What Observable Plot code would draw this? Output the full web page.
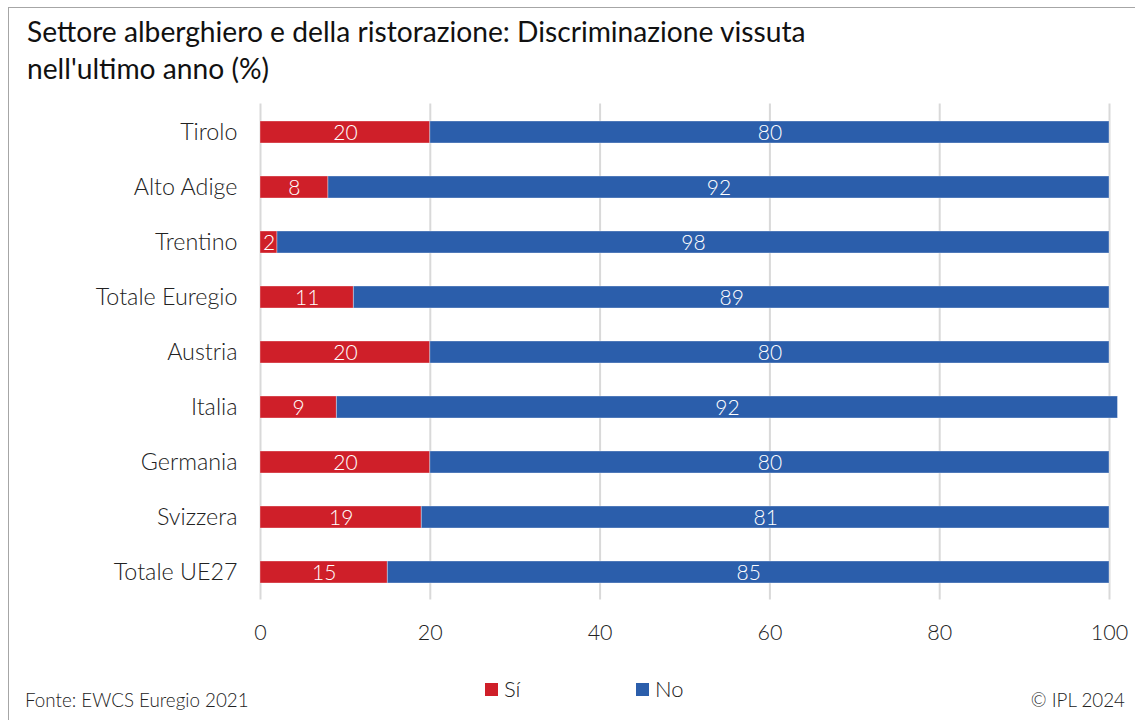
<!DOCTYPE html>
<html>
<head>
<meta charset="utf-8">
<script src="https://cdn.jsdelivr.net/npm/d3@7"></script>
<script src="https://cdn.jsdelivr.net/npm/@observablehq/plot@0.6"></script>
<style>
  html, body { margin: 0; padding: 0; background: #fff; }
  #wrap { position: relative; width: 1135px; height: 720px; overflow: hidden; font-family: Lato, "Noto Sans", sans-serif; }
  #frame { position: absolute; left: 8px; top: 7px; width: 1140px; height: 730px; border-left: 1.5px solid #a6a6a6; border-top: 1.5px solid #a6a6a6; box-sizing: border-box; }
  #chart { position: absolute; left: 0; top: 0; }
  #overlay { position: absolute; left: 0; top: 0; pointer-events: none; }
</style>
</head>
<body>
<div id="wrap">
  <div id="frame"></div>
  <div id="chart"></div>
  <svg id="overlay" width="1135" height="720"></svg>
</div>
<script>
const categories = ["Tirolo", "Alto Adige", "Trentino", "Totale Euregio", "Austria", "Italia", "Germania", "Svizzera", "Totale UE27"];
const siValues = [20, 8, 2, 11, 20, 9, 20, 19, 15];
const noValues = [80, 92, 98, 89, 80, 92, 80, 81, 85];
const seriesNames = ["Sí", "No"];
const seriesColors = ["#cf1f29", "#2b5eab"];
const xTicks = [0, 20, 40, 60, 80, 100];
const titleLines = ["Settore alberghiero e della ristorazione: Discriminazione vissuta", "nell'ultimo anno (%)"];
const sourceText = "Fonte: EWCS Euregio 2021";
const creditText = "© IPL 2024";

const data = [];
categories.forEach((c, i) => {
  data.push({cat: c, answer: seriesNames[0], value: siValues[i]});
  data.push({cat: c, answer: seriesNames[1], value: noValues[i]});
});

const chart = Plot.plot({
  width: 1135,
  height: 720,
  marginTop: 103.5,
  marginBottom: 120.5,
  marginLeft: 260,
  marginRight: 26,
  style: {fontFamily: "Lato, 'Noto Sans', sans-serif", background: "transparent"},
  x: {domain: [0, 100], label: null},
  y: {domain: categories, paddingInner: 0.6, paddingOuter: 0.3, label: null},
  color: {domain: seriesNames, range: seriesColors},
  marks: [
    Plot.ruleX(xTicks, {stroke: "#d9d9d9", strokeWidth: 2}),
    Plot.barX(data, Plot.stackX({x: "value", y: "cat", fill: "answer", order: seriesNames, stroke: "#ffffff", strokeOpacity: 0.35, strokeWidth: 1})),
    Plot.text(data, Plot.stackX({x: "value", y: "cat", z: "answer", order: seriesNames, text: d => String(d.value), fill: "white", fontSize: 21, fontWeight: 300, dy: 1})),
    Plot.axisY({tickSize: 0, tickPadding: 23, fontSize: 23.3, fontWeight: 300, fill: "#222"}),
    Plot.axisX({ticks: xTicks, tickSize: 0, tickPadding: 25, fontSize: 21.5, fontWeight: 300, fill: "#222"})
  ]
});
document.getElementById("chart").appendChild(chart);

const ov = d3.select("#overlay");
const title = ov.append("text").attr("x", 27).attr("font-size", 28.2).attr("fill", "#111").attr("font-family", "Lato, 'Noto Sans', sans-serif");
titleLines.forEach((t, i) => {
  title.append("tspan").attr("x", 27).attr("y", 42 + i * 37).text(t);
});
ov.append("text").attr("x", 25).attr("y", 707).attr("font-size", 18.8).attr("font-weight", 300).attr("fill", "#222").text(sourceText);
ov.append("text").attr("x", 1125).attr("y", 707).attr("text-anchor", "end").attr("font-size", 18.8).attr("font-weight", 300).attr("fill", "#222").text(creditText);

const legendX = [485, 636];
seriesNames.forEach((name, i) => {
  ov.append("rect").attr("x", legendX[i]).attr("y", 683).attr("width", 13).attr("height", 13).attr("fill", seriesColors[i]);
  ov.append("text").attr("x", legendX[i] + 19).attr("y", 697).attr("font-size", 22).attr("font-weight", 300).attr("fill", "#222").text(name);
});
</script>
</body>
</html>
